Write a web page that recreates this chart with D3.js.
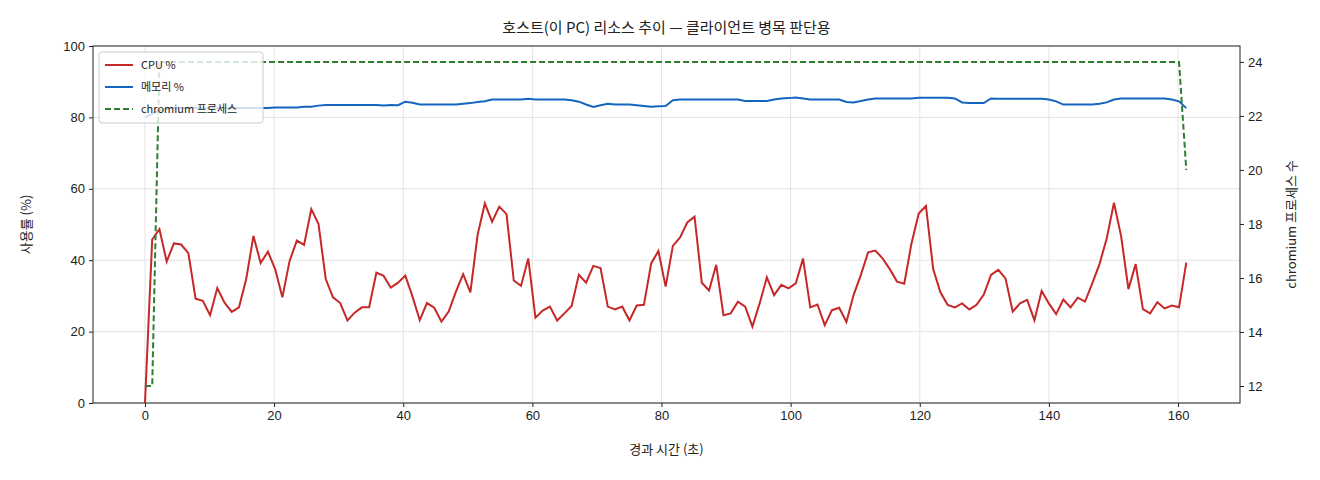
<!DOCTYPE html>
<html><head><meta charset="utf-8">
<script src="https://cdn.jsdelivr.net/npm/d3@7"></script>
<style>body{margin:0;background:#fff}svg{font-family:"Noto Sans CJK KR","Noto Sans",sans-serif}</style>
</head><body><svg id="c" width="1320" height="480"></svg>
<script>
const sampleInterval = 1.12; // seconds between samples
const cpu = [0,45.8,48.7,39.6,44.7,44.4,42,29.2,28.6,24.6,32.2,28.1,25.5,26.8,34.7,46.8,39.2,42.4,37.5,29.6,39.8,45.5,44.3,54.3,50.1,34.7,29.6,28,23.1,25.3,26.8,26.8,36.5,35.6,32.3,33.7,35.7,29.8,23.2,28,26.7,22.8,25.6,31.2,36.1,31,47.1,55.9,50.8,55,52.9,34.3,32.8,40.5,
23.9,25.9,27,23.1,25.1,27.2,35.9,33.7,38.4,37.8,27,26.2,27,23.1,27.3,27.5,39.1,42.6,32.6,44,46.4,50.6,52.2,33.7,31.5,38.7,24.6,25.1,28.4,27,21.4,27.9,35.2,30.2,33.1,32.1,33.5,40.5,26.8,27.6,21.8,26,26.7,22.7,30.3,35.9,42.2,42.7,40.5,37.5,34,33.4,
44.7,53.1,55.2,37.5,31,27.5,26.8,27.9,26.2,27.5,30.4,35.9,37.3,34.9,25.6,27.9,28.9,23.2,31.4,27.9,24.9,29,26.8,29.5,28.4,33.5,38.9,46.1,56.1,46.6,31.9,38.9,26.3,25.1,28.2,26.5,27.3,26.8,39.3];
const mem = [80,81,82,82.4,82.6,82.6,82.6,82.6,82.6,82.6,82.6,82.6,82.6,82.6,82.6,82.6,82.6,82.6,82.8,82.8,82.8,82.8,83,83,83.3,83.5,83.5,83.5,83.5,83.5,83.5,83.5,83.5,83.3,83.5,83.4,84.4,84.1,83.6,83.6,83.6,83.6,83.6,83.6,83.8,84,84.3,84.5,85,85,85,85,85,85.2,85,85,85,85,85,84.8,84.4,83.6,82.9,83.4,83.8,83.6,83.6,83.6,83.4,83.2,83,83.1,83.2,84.8,85,85,85,85,85,85,85,85,85,84.6,84.6,84.6,84.6,85,85.3,85.4,85.6,85.3,85,85,85,85,85,84.3,84.2,84.6,85,85.3,85.3,85.3,85.3,85.3,85.3,85.5,85.5,85.5,85.5,85.5,85.3,84.2,84,84,84,85.3,85.2,85.2,85.2,85.2,85.2,85.2,85.2,85,84.5,83.6,83.6,83.6,83.6,83.6,83.8,84.2,85,85.3,85.3,85.3,85.3,85.3,85.3,85.3,85,84.5,82.6];
const procs = [12,12].concat(new Array(142).fill(24)).concat([20]);
const xTicks = [0,20,40,60,80,100,120,140,160];
const yTicks = [0,20,40,60,80,100];
const y2Ticks = [12,14,16,18,20,22,24];
const time = cpu.map((_, i) => i * sampleInterval);

const svg = d3.select("#c");
const L=93,R=1240,T=46,B=403;
const x = d3.scaleLinear().domain([-8.05,169.6]).range([L,R]);
const y = d3.scaleLinear().domain([0,100]).range([B,T]);
const y2 = d3.scaleLinear().domain([11.37,24.59]).range([B,T]);

const g = svg.append("g");
g.selectAll(".gx").data(xTicks).enter().append("line").attr("x1",d=>x(d)).attr("x2",d=>x(d)).attr("y1",T).attr("y2",B).attr("stroke","#e4e4e4");
g.selectAll(".gy").data(yTicks).enter().append("line").attr("y1",d=>y(d)).attr("y2",d=>y(d)).attr("x1",L).attr("x2",R).attr("stroke","#e4e4e4");

const fs = "13px";
const ax = svg.append("g").attr("transform",`translate(0,${B})`).call(d3.axisBottom(x).tickValues(xTicks).tickSize(4).tickPadding(4));
const ay = svg.append("g").attr("transform",`translate(${L},0)`).call(d3.axisLeft(y).tickValues(yTicks).tickSize(4).tickPadding(4));
const ay2 = svg.append("g").attr("transform",`translate(${R},0)`).call(d3.axisRight(y2).tickValues(y2Ticks).tickSize(4).tickPadding(4));
[ax,ay,ay2].forEach(a=>{a.selectAll("text").style("font-size",fs).attr("fill","#222");a.select(".domain").remove();a.selectAll("line").attr("stroke","#222");});
svg.append("rect").attr("x",L).attr("y",T).attr("width",R-L).attr("height",B-T).attr("fill","none").attr("stroke","#222").attr("stroke-width",1);

const line = (arr, sc) => d3.line().x((d,i)=>x(time[i])).y(d=>sc(d))(arr);
svg.append("path").attr("d",line(cpu,y)).attr("fill","none").attr("stroke","#c62828").attr("stroke-width",2);
svg.append("path").attr("d",line(mem,y)).attr("fill","none").attr("stroke","#1565c0").attr("stroke-width",2);
svg.append("path").attr("d",line(procs,y2)).attr("fill","none").attr("stroke","#2e7d32").attr("stroke-width",2).attr("stroke-dasharray","6,3");

svg.append("text").attr("x",(L+R)/2).attr("y",33).attr("text-anchor","middle").style("font-size","15px").attr("fill","#222").text("호스트(이 PC) 리소스 추이 — 클라이언트 병목 판단용");
svg.append("text").attr("x",(L+R)/2).attr("y",454).attr("text-anchor","middle").style("font-size","13px").attr("fill","#222").text("경과 시간 (초)");
svg.append("text").attr("transform",`translate(31,${(T+B)/2}) rotate(-90)`).attr("text-anchor","middle").style("font-size","13px").attr("fill","#222").text("사용률 (%)");
svg.append("text").attr("transform",`translate(1296,${(T+B)/2}) rotate(-90)`).attr("text-anchor","middle").style("font-size","13px").attr("fill","#222").text("chromium 프로세스 수");

const lg = svg.append("g").attr("transform","translate(99,52)");
lg.append("rect").attr("width",164).attr("height",71).attr("rx",3).attr("fill","rgba(255,255,255,0.8)").attr("stroke","#ccc");
const items=[["CPU %","#c62828",null],["메모리 %","#1565c0",null],["chromium 프로세스","#2e7d32","6,3"]];
items.forEach((it,i)=>{const yy=13+i*22;
 lg.append("line").attr("x1",6).attr("x2",34).attr("y1",yy).attr("y2",yy).attr("stroke",it[1]).attr("stroke-width",2).attr("stroke-dasharray",it[2]);
 lg.append("text").attr("x",42).attr("y",yy+4).style("font-size","11px").attr("fill","#222").text(it[0]);});
</script></body></html>
